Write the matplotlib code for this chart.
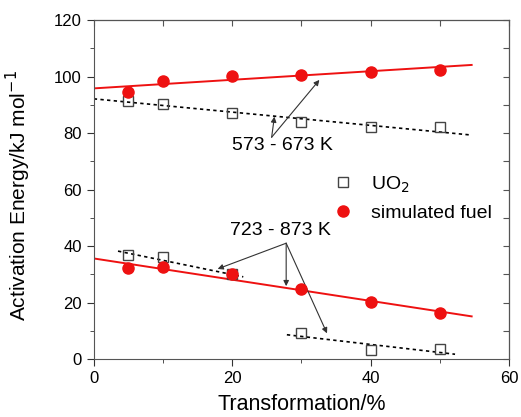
import matplotlib
matplotlib.use("Agg")
import matplotlib.pyplot as plt
import numpy as np

plt.rcParams["font.family"] = ["Liberation Sans", "DejaVu Sans"]

# transformation (%)
transformation = [5, 10, 20, 30, 40, 50]

# 573 - 673 K
fuel_high = [94.4, 98.3, 100.2, 100.6, 101.6, 102.3]
uo2_high = [91.3, 90.4, 87.1, 83.8, 82.1, 82.0]

# 723 - 873 K
fuel_low = [32.1, 32.7, 30.1, 24.8, 20.2, 16.4]
uo2_low = [36.7, 36.1, 30.1, 9.1, 3.2, 3.4]

# fitted lines (x endpoints, y endpoints)
fit_fuel_high = ([0, 54.6], [95.8, 104.1])
fit_uo2_high = ([0, 54.5], [92.1, 79.3])
fit_fuel_low = ([0, 54.6], [35.6, 15.1])
fit_uo2_low_a = ([3.5, 21.6], [38.2, 29.1])
fit_uo2_low_b = ([27.9, 52.2], [8.6, 1.7])

fig = plt.figure(figsize=(5.21, 4.17), dpi=100)
ax = fig.add_axes([0.180, 0.139, 0.797, 0.813])

red = "#ee1111"
dot = (0, (2, 2))

for xs, ys in (fit_fuel_high, fit_fuel_low):
    ax.plot(xs, ys, color=red, lw=1.4, zorder=2)
for xs, ys in (fit_uo2_high, fit_uo2_low_a, fit_uo2_low_b):
    ax.plot(xs, ys, color="black", lw=1.2, ls=dot, zorder=2)

ax.plot(transformation, uo2_high, ls="none", marker="s", ms=7, mfc="none",
        mec="#444444", mew=1.0, zorder=3, label="UO$_2$")
ax.plot(transformation, uo2_low, ls="none", marker="s", ms=7, mfc="none",
        mec="#444444", mew=1.0, zorder=3)
ax.plot(transformation, fuel_high, ls="none", marker="o", ms=8, color=red,
        zorder=4, label="simulated fuel")
ax.plot(transformation, fuel_low, ls="none", marker="o", ms=8, color=red,
        zorder=4)

arrow = dict(arrowstyle="-|>", color="#333333", lw=0.8, mutation_scale=8,
             shrinkA=0, shrinkB=0)
ax.text(27.2, 75.7, "573 - 673 K", fontsize=14, ha="center", va="center")
for tgt in [(32.6, 98.8), (26.1, 85.8)]:
    ax.annotate("", xy=tgt, xytext=(25.7, 78.5), arrowprops=arrow)

ax.text(26.9, 45.4, "723 - 873 K", fontsize=14, ha="center", va="center")
for tgt in [(17.9, 31.9), (27.8, 25.8), (33.7, 9.1)]:
    ax.annotate("", xy=tgt, xytext=(27.8, 41.0), arrowprops=arrow)

ax.legend(loc="upper left", bbox_to_anchor=(0.572, 0.545), frameon=False,
          fontsize=14, handletextpad=0.85, labelspacing=0.5, handlelength=1.2,
          borderpad=0, borderaxespad=0)

ax.set_xlim(0, 60)
ax.set_ylim(0, 120)
ax.set_xticks([0, 20, 40, 60])
ax.set_xticks([10, 30, 50], minor=True)
ax.set_yticks(np.arange(0, 121, 20))
ax.set_yticks(np.arange(10, 120, 20), minor=True)
ax.tick_params(which="both", direction="out", labelsize=12, colors="#333333",
               labelcolor="black")
ax.tick_params(which="major", length=5)
ax.tick_params(which="minor", length=3)
for s in ax.spines.values():
    s.set_color("#555555")

# inward ticks on top and right
axt = ax.secondary_xaxis("top")
axt.set_xticks(np.arange(0, 61, 10))
axt.tick_params(direction="in", length=4, labeltop=False, colors="#555555")
axr = ax.secondary_yaxis("right")
axr.set_yticks(np.arange(0, 121, 10))
axr.tick_params(direction="in", length=4, labelright=False, colors="#555555")

ax.set_xlabel("Transformation/%", fontsize=15.5, labelpad=6)
ax.set_ylabel("Activation Energy/kJ mol$^{-1}$", fontsize=15)
ax.yaxis.set_label_coords(-0.147, 0.481)

fig.savefig("out.png", dpi=100)
